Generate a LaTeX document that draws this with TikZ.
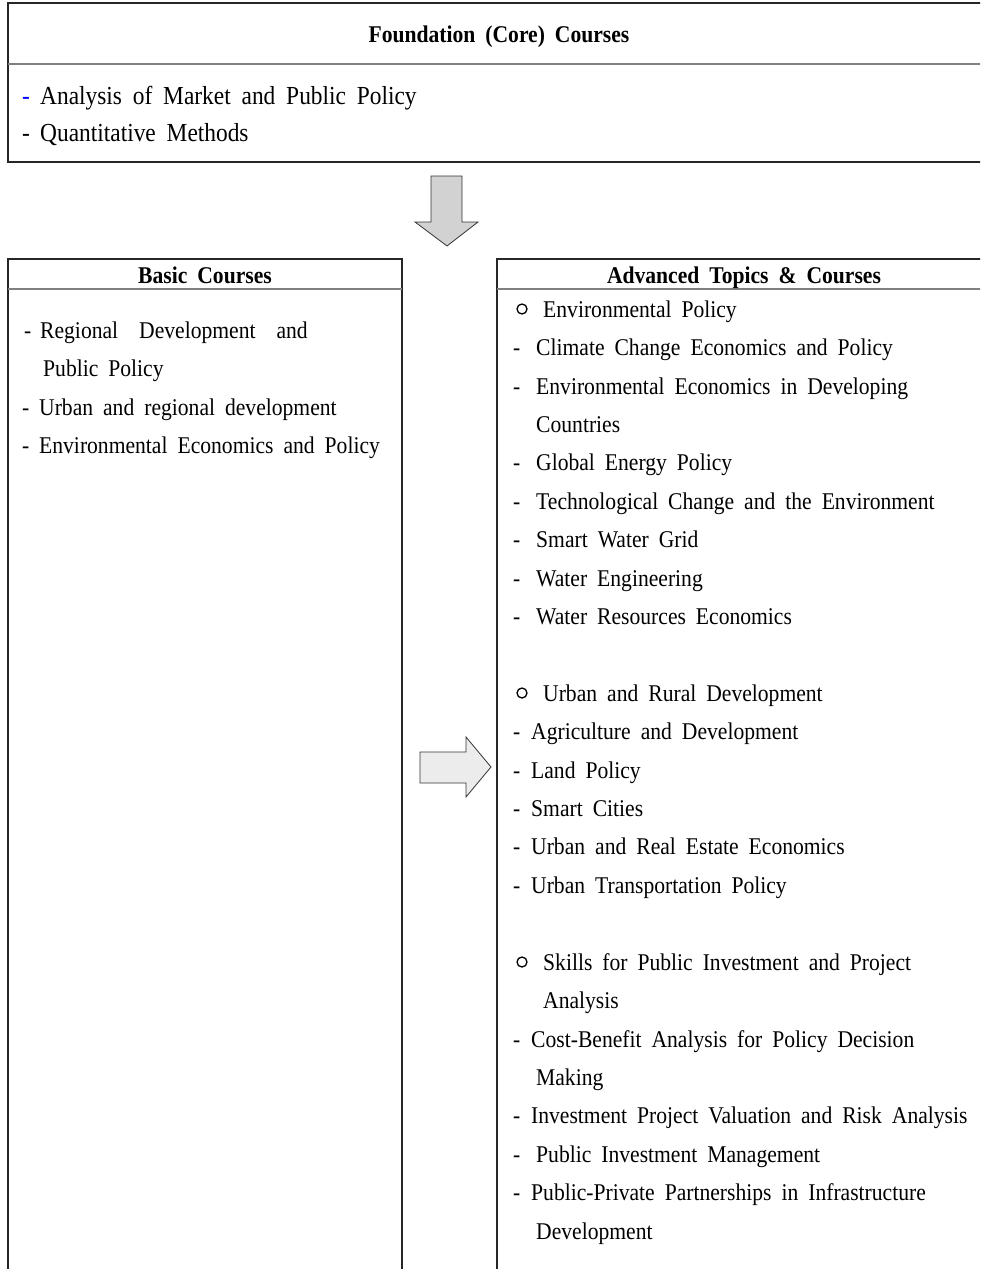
\documentclass[tikz,border=0pt]{standalone}
\usepackage{fontspec}
\setmainfont{Liberation Serif}[FakeStretch=0.9, WordSpace=1.85]
\usepackage{tikz}
\usetikzlibrary{arrows.meta,calc,positioning}

\tikzset{
  item/.style={anchor=base west, inner sep=0pt, font=\fontsize{24}{29}\selectfont},
  coreitem/.style={item, font=\fontsize{26}{31}\selectfont},
  head/.style={anchor=base, inner sep=0pt, font=\fontsize{24}{29}\selectfont\bfseries},
  bul/.style={circle, draw, line width=1.3pt, minimum size=10pt, inner sep=0pt},
  box/.style={draw=black!85, line width=1.1pt},
  headrule/.style={draw=gray, line width=1.8pt},
  blockarrow/.style={draw=black!80, line width=0.8pt}
}

\begin{document}
\begin{tikzpicture}[x=1pt, y=-1pt]
  \clip (0,0) rectangle (980,1269);
  \fill[white] (0,0) rectangle (980,1269);

  % Foundation box
  \draw[box] (8,3) rectangle (995,162);
  \draw[headrule] (8,64) -- (995,64);
  \node[head] (core) at (499,42) {Foundation (Core) Courses};
  \node[coreitem, text=blue] (core-dash-1) at (22,104) {-};
  \node[coreitem] (core-dash-2) at (22,141) {-};
  \node[coreitem] (core-1) at (40,104) {Analysis of Market and Public Policy};
  \node[coreitem] (core-2) at (40,141) {Quantitative Methods};

  % Down arrow
  \draw[blockarrow, fill=gray!35] (431,176) -- (462,176) -- (462,222) -- (478,222)
    -- (447,246) -- (415,222) -- (431,222) -- cycle;

  % Basic box
  \draw[box] (8,259) rectangle (402,1290);
  \draw[headrule] (8,289) -- (402,289);
  \node[head] (basic) at (205,283) {Basic Courses};
  \node[item] (basic-dash-1) at (24,338) {-};
  \node[item] (basic-dash-2) at (22,415) {-};
  \node[item] (basic-dash-3) at (22,453) {-};
  \foreach \yb/\xt/\txt [count=\i] in {
    338/40/Regional\hspace{21pt}Development\hspace{21pt}and,
    376/43/Public Policy,
    415/39/Urban and regional development,
    453/39/Environmental Economics and Policy}
    \node[item] (basic-\i) at (\xt,\yb) {\txt};

  % Right arrow
  \draw[blockarrow, fill=gray!15] (420,752) -- (466,752) -- (466,737) -- (491,767)
    -- (466,797) -- (466,783) -- (420,783) -- cycle;

  % Advanced box
  \draw[box] (497,259) rectangle (995,1290);
  \draw[headrule] (497,289) -- (995,289);
  \node[head] (adv) at (744,283) {Advanced Topics \& Courses};
  \foreach \yc [count=\i] in {309, 693, 962}
    \node[bul] (adv-bul-\i) at (522,\yc) {};
  \foreach \yb [count=\i] in {355, 394, 470, 509, 547, 586, 624, 739, 778, 816,
    854, 893, 1047, 1123, 1162, 1200}
    \node[item] (adv-dash-\i) at (513,\yb) {-};
  \foreach \yb/\xt/\txt [count=\i] in {
    317/543/Environmental Policy,
    355/536/Climate Change Economics and Policy,
    394/536/Environmental Economics in Developing,
    432/536/Countries,
    470/536/Global Energy Policy,
    509/536/Technological Change and the Environment,
    547/536/Smart Water Grid,
    586/536/Water Engineering,
    624/536/Water Resources Economics,
    701/543/Urban and Rural Development,
    739/531/Agriculture and Development,
    778/531/Land Policy,
    816/531/Smart Cities,
    854/531/Urban and Real Estate Economics,
    893/531/Urban Transportation Policy,
    970/543/Skills for Public Investment and Project,
    1008/543/Analysis,
    1047/531/Cost-Benefit Analysis for Policy Decision,
    1085/536/Making,
    1123/531/Investment Project Valuation and Risk Analysis,
    1162/536/Public Investment Management,
    1200/531/Public-Private Partnerships in Infrastructure,
    1239/536/Development}
    \node[item] (adv-\i) at (\xt,\yb) {\txt};
\end{tikzpicture}
\end{document}
